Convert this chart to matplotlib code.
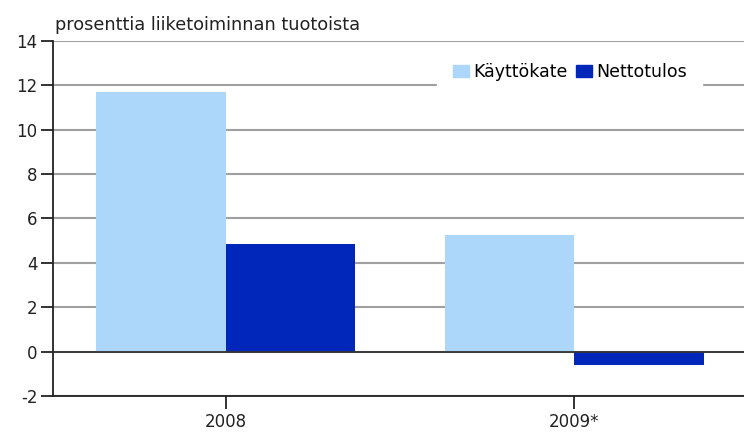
import numpy as np
import matplotlib.pyplot as plt
from matplotlib.patches import Patch

years = ["2008", "2009*"]
kayttokate = [11.7, 5.25]
nettotulos = [4.85, -0.6]
series_names = ["Käyttökate", "Nettotulos"]
colors = ["#acd7fb", "#0027ba"]

plt.rcParams['font.family'] = ['DejaVu Sans']
plt.rcParams['axes.unicode_minus'] = False

fig = plt.figure(figsize=(7.44, 4.32), dpi=100)
ax = fig.add_axes([0.0712, 0.0833, 0.93, 0.822])

x = np.arange(len(years))
w = 0.372
ax.bar(x - w / 2, kayttokate, w, color=colors[0], zorder=3)
ax.bar(x + w / 2, nettotulos, w, color=colors[1], zorder=3)

ax.set_ylim(-2, 14)
ax.set_yticks(range(-2, 15, 2))
ax.set_xlim(-0.496, 1.49)
ax.set_xticks(x)
ax.set_xticklabels(years)

ax.yaxis.grid(True, color="#a0a0a0", linewidth=1.5, zorder=0)
ax.axhline(0, color="#333333", linewidth=1.3, zorder=4)
for s in ["top", "right"]:
    ax.spines[s].set_visible(False)
for s in ["left", "bottom"]:
    ax.spines[s].set_color("#222222")
    ax.spines[s].set_linewidth(1.3)
ax.tick_params(axis="both", labelsize=12, colors="#222222", length=9, width=1.3)
ax.tick_params(axis="x", pad=3)
ax.tick_params(axis="y", pad=2)

fig.text(0.074, 0.93, "prosenttia liiketoiminnan tuotoista", fontsize=12.8, color="#222222")

handles = [Patch(color=c) for c in colors]
leg = fig.legend(handles, series_names, loc="center", bbox_to_anchor=(0.766, 0.833),
                 ncol=2, fontsize=12.5, frameon=True, fancybox=False, framealpha=1,
                 handlelength=0.9, handleheight=0.7, handletextpad=0.25, columnspacing=0.5,
                 borderpad=0.9)
leg.get_frame().set_edgecolor("white")
leg.set_zorder(5)

fig.savefig("out.png", dpi=100)
